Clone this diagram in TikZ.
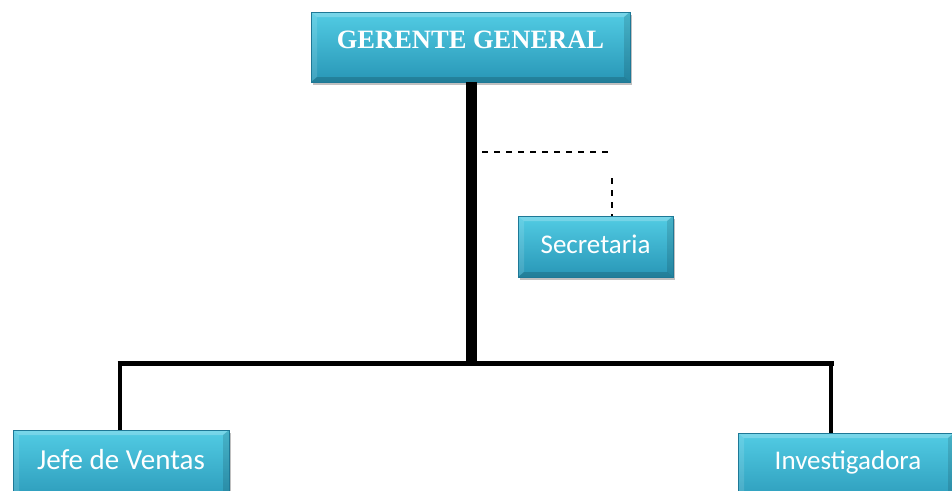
\documentclass[tikz,border=0pt]{standalone}
\usepackage{fontspec}
\setmainfont{Liberation Serif}
\newfontfamily\calib{Carlito}
\usetikzlibrary{shadows}
\definecolor{boxtop}{RGB}{82,204,228}
\definecolor{boxbot}{RGB}{40,150,182}
\definecolor{boxedge}{RGB}{30,120,150}
\tikzset{
  orgbox/.style={rectangle, inner sep=0pt, top color=boxtop, bottom color=boxbot,
    draw=boxedge, line width=0.6pt,
    drop shadow={shadow xshift=2pt, shadow yshift=-3pt, opacity=0.35, fill=black!70},
    path picture={
      \fill[white,opacity=0.22] (path picture bounding box.north west) -- (path picture bounding box.north east)
        -- ([xshift=-6pt,yshift=-5pt]path picture bounding box.north east) -- ([xshift=6pt,yshift=-5pt]path picture bounding box.north west) -- cycle;
      \fill[white,opacity=0.12] (path picture bounding box.north west) -- (path picture bounding box.south west)
        -- ([xshift=6pt,yshift=5pt]path picture bounding box.south west) -- ([xshift=6pt,yshift=-5pt]path picture bounding box.north west) -- cycle;
      \fill[black,opacity=0.12] (path picture bounding box.north east) -- (path picture bounding box.south east)
        -- ([xshift=-6pt,yshift=5pt]path picture bounding box.south east) -- ([xshift=-6pt,yshift=-5pt]path picture bounding box.north east) -- cycle;
      \fill[black,opacity=0.16] (path picture bounding box.south west) -- (path picture bounding box.south east)
        -- ([xshift=-6pt,yshift=5pt]path picture bounding box.south east) -- ([xshift=6pt,yshift=5pt]path picture bounding box.south west) -- cycle;
    }},
  boxtext/.style={text=white, font=\calib\fontsize{27}{30}\selectfont},
  headtext/.style={text=white, font=\bfseries\fontsize{26.5}{30}\selectfont},
  thickline/.style={line width=5pt, black},
  dashline/.style={dashed, line width=1.5pt, dash pattern=on 6pt off 6pt, black}
}
\begin{document}
\begin{tikzpicture}[x=1pt,y=-1pt]
\useasboundingbox[fill=white] (0,0) rectangle (952,490);
% boxes
\node[orgbox, minimum width=319pt, minimum height=70pt] (ger) at (470.5,47) {};
\node[headtext] (gert) at (470.5,40) {GERENTE GENERAL};
\node[orgbox, minimum width=155pt, minimum height=61pt] (sec) at (595.5,246.5) {};
\node[boxtext] (sect) at (595.5,244) {Secretaria};
\node[orgbox, minimum width=216pt, minimum height=76pt] (jefe) at (121,468) {};
\node[boxtext, font=\calib\fontsize{29}{32}\selectfont] (jefet) at (121,460) {Jefe de Ventas};
\node[orgbox, minimum width=216pt, minimum height=76pt] (inv) at (846,471) {};
\node[boxtext] (invt) at (848,462) {Investigadora};
% connectors
\coordinate (hub) at (471,363);
\coordinate (jl) at (120,363);
\coordinate (il) at (831,363);
\coordinate (d1) at (482,152);
\coordinate (d2) at (613,152);
\coordinate (d3) at (612,178);
\draw[line width=11pt] (ger.south -| hub) -- ([yshift=2pt]hub);
\draw[thickline] ([xshift=-2.5pt]jl) -- ([xshift=2.5pt]il);
\draw[line width=4pt] (jl) -- (jefe.north -| jl);
\draw[line width=4pt] (il) -- (inv.north -| il);
\draw[dashline] (d1) -- (d2);
\draw[dashline] (d3) -- (sec.north -| d3);
\end{tikzpicture}
\end{document}
